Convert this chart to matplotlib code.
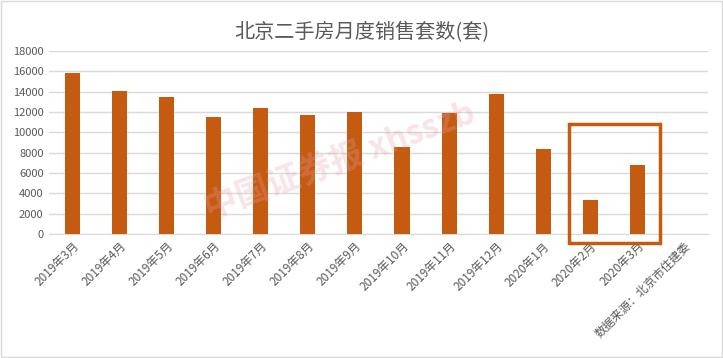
import matplotlib
matplotlib.use('Agg')
import matplotlib.pyplot as plt
from matplotlib.patches import Rectangle

plt.rcParams['font.family'] = ['Noto Sans CJK SC', 'DejaVu Sans']

months = ['2019年3月', '2019年4月', '2019年5月', '2019年6月', '2019年7月',
          '2019年8月', '2019年9月', '2019年10月', '2019年11月', '2019年12月',
          '2020年1月', '2020年2月', '2020年3月', '数据来源：北京市住建委']
sales = [15800, 14100, 13500, 11500, 12400, 11700, 12000, 8600, 11900,
         13800, 8400, 3400, 6800, 0]
title = '北京二手房月度销售套数(套)'
bar_color = '#C55A11'

fig = plt.figure(figsize=(7.23, 3.58), dpi=100)
ax = fig.add_axes([0.068, 0.346, 0.911, 0.5115])

x = range(len(months))
ax.bar(x, sales, width=0.32, color=bar_color, zorder=3)

ax.set_xlim(-0.5, len(months) - 0.5)
ax.set_ylim(0, 18000)
ax.set_yticks(range(0, 18001, 2000))
ax.set_yticklabels([str(v) for v in range(0, 18001, 2000)], fontsize=8, color='#595959')
ax.set_xticks(list(x))
ax.set_xticklabels(months, rotation=45, ha='right', rotation_mode='anchor',
                   fontsize=8.5, color='#595959')
ax.tick_params(length=0, pad=4)
ax.grid(axis='y', color='#d9d9d9', linewidth=1, zorder=0)
for s in ['top', 'right', 'left']:
    ax.spines[s].set_visible(False)
ax.spines['bottom'].set_color('#d9d9d9')

# highlight box around the 2020 months
box = Rectangle((10.54, -885), 1.95, 11700, fill=False, edgecolor=bar_color,
                linewidth=2.5, clip_on=False, zorder=4)
ax.add_patch(box)

fig.text(0.5, 0.91, title, ha='center', va='center', fontsize=14.5,
         fontweight='light', color='#595959')

# watermark
fig.text(0.47, 0.55, '中国证券报 xhsszb', ha='center', va='center', fontsize=24,
         fontweight='bold', color='#e8a0a8', alpha=0.28, rotation=20)

# light border around the whole picture
fig.patches.append(Rectangle((0.001, 0.002), 0.997, 0.995, transform=fig.transFigure,
                             fill=False, edgecolor='#d9d9d9', linewidth=1))

fig.savefig('out.png', dpi=100)
